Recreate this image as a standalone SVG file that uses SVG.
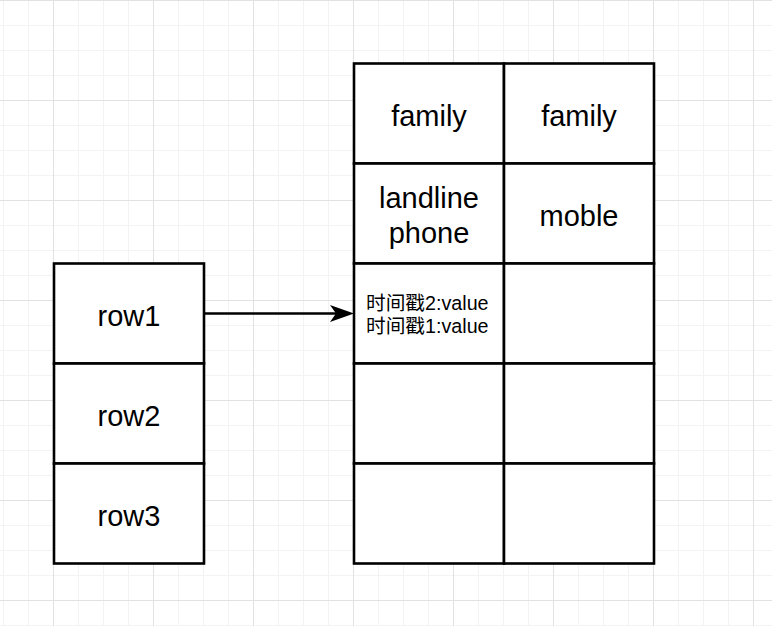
<svg xmlns="http://www.w3.org/2000/svg" width="772" height="626" viewBox="0 0 772 626">
<defs>
<pattern id="minor" x="3" y="0" width="25" height="25" patternUnits="userSpaceOnUse">
<path d="M0.5 0V25M0 0.5H25" fill="none" stroke="#f3f3f3" stroke-width="1"/>
</pattern>
<pattern id="major" x="53" y="0" width="100" height="100" patternUnits="userSpaceOnUse">
<path d="M0.5 0V100M0 0.5H100" fill="none" stroke="#e2e2e2" stroke-width="1"/>
</pattern>
<marker id="arrow" viewBox="0 0 23 17" refX="22" refY="8.5" markerWidth="23" markerHeight="17" markerUnits="userSpaceOnUse" orient="auto">
<path d="M0 0L23 8.5L0 17L6 8.5Z" fill="#000"/>
</marker>
</defs>
<style>
.cell{fill:#fff;stroke:#000;stroke-width:2.6}
.lbl{font-family:"Liberation Sans",Arial,"Noto Sans CJK SC",sans-serif;font-size:29px;fill:#000;text-anchor:middle}
.sm{font-family:"Liberation Sans",Arial,"Noto Sans CJK SC",sans-serif;font-size:19.7px;fill:#000}
</style>
<rect width="772" height="626" fill="#fff"/>
<rect width="772" height="626" fill="url(#minor)"/>
<rect width="772" height="626" fill="url(#major)"/>

<g id="row1"><rect class="cell" x="54" y="263.5" width="150" height="100"/><text class="lbl" x="129" y="326">row1</text></g>
<g id="row2"><rect class="cell" x="54" y="363.5" width="150" height="100"/><text class="lbl" x="129" y="426">row2</text></g>
<g id="row3"><rect class="cell" x="54" y="463.5" width="150" height="100"/><text class="lbl" x="129" y="526">row3</text></g>

<g id="family1"><rect class="cell" x="354" y="63.5" width="150" height="100"/><text class="lbl" x="429" y="126">family</text></g>
<g id="family2"><rect class="cell" x="504" y="63.5" width="150" height="100"/><text class="lbl" x="579" y="126">family</text></g>
<g id="landline"><rect class="cell" x="354" y="163.5" width="150" height="100"/><text class="lbl" x="429" y="208">landline</text><text class="lbl" x="429" y="243">phone</text></g>
<g id="moble"><rect class="cell" x="504" y="163.5" width="150" height="100"/><text class="lbl" x="579" y="226">moble</text></g>
<g id="values"><rect class="cell" x="354" y="263.5" width="150" height="100"/><text class="sm" x="366" y="310">时间戳2:value</text><text class="sm" x="366" y="333">时间戳1:value</text></g>
<g id="c32"><rect class="cell" x="504" y="263.5" width="150" height="100"/></g>
<g id="c41"><rect class="cell" x="354" y="363.5" width="150" height="100"/></g>
<g id="c42"><rect class="cell" x="504" y="363.5" width="150" height="100"/></g>
<g id="c51"><rect class="cell" x="354" y="463.5" width="150" height="100"/></g>
<g id="c52"><rect class="cell" x="504" y="463.5" width="150" height="100"/></g>

<g id="connectors"><line x1="204" y1="313.5" x2="345" y2="313.5" stroke="#000" stroke-width="2.6"/><path d="M330 305L354 313.5L330 322L336 313.5Z" fill="#000"/></g>
</svg>
